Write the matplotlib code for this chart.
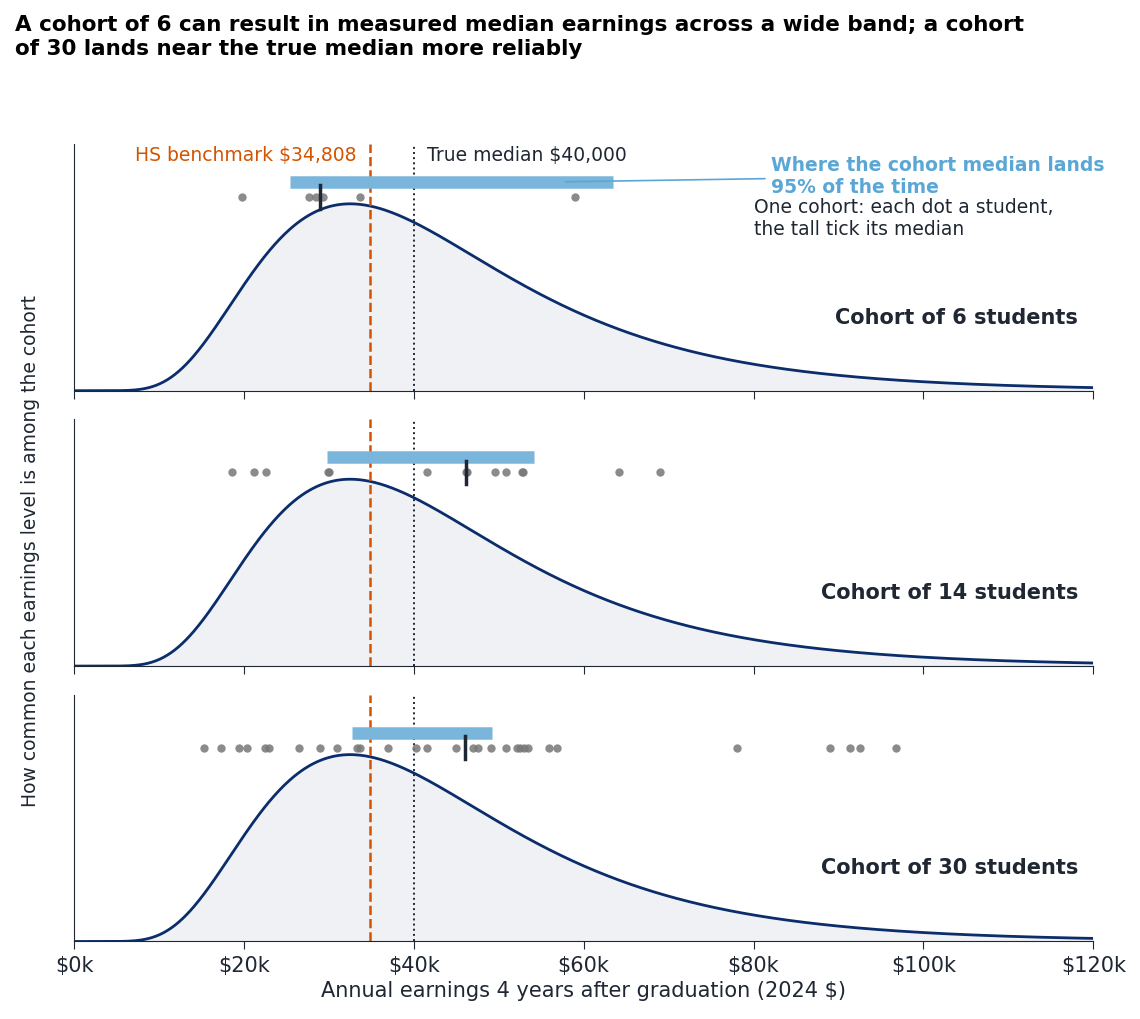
import numpy as np
import matplotlib.pyplot as plt

true_median = 40000
hs_benchmark = 34808
mode_earn = 32500  # peak of the earnings curve

cohort_sizes = [6, 14, 30]
cohort_students = [
    [19.8, 27.7, 28.5, 29.3, 33.7, 59.0],
    [18.6, 21.2, 22.6, 29.9, 30.0, 41.5, 46.2, 46.3, 49.5, 50.8, 52.7, 52.9, 64.2, 69.0],
    [15.3, 17.3, 19.4, 20.3, 22.5, 22.9, 26.5, 29.0, 30.9, 33.3, 33.7, 37.0, 40.3,
     41.5, 45.0, 47.0, 47.6, 49.1, 50.9, 52.1, 52.5, 53.0, 53.5, 55.9, 56.8, 78.0,
     89.0, 91.3, 92.5, 96.8],
]
cohort_medians = [28.9, 46.2, 46.0]
band_lo = [25.4, 29.8, 32.7]
band_hi = [63.4, 54.1, 49.2]

navy = '#0b2d6b'
orange = '#d35400'
blue = '#7ab5db'
ink = '#1f2733'

mu = np.log(true_median)
sigma = np.sqrt(np.log(true_median / mode_earn))
x = np.linspace(1, 120000, 800)
pdf = np.exp(-(np.log(x) - mu) ** 2 / (2 * sigma ** 2)) / x
pdf = pdf / pdf.max() * 0.757

fig = plt.figure(figsize=(11.4, 10.2), dpi=100)
bottoms = [0.616, 0.346, 0.076]
for i, n in enumerate(cohort_sizes):
    ax = fig.add_axes([0.065, bottoms[i], 0.894, 0.242])
    ax.fill_between(x, pdf, color='#eff1f5')
    ax.plot(x, pdf, color=navy, lw=2)
    ax.axvline(hs_benchmark, color=orange, ls='--', lw=1.8)
    ax.axvline(true_median, color=ink, ls=':', lw=1.4)
    ax.plot([band_lo[i] * 1000, band_hi[i] * 1000], [0.846, 0.846], color=blue, lw=9, solid_capstyle='butt')
    pts = np.array(cohort_students[i]) * 1000
    ax.scatter(pts, np.full(len(pts), 0.785), s=36, color='#777777', alpha=0.85, zorder=3, lw=0)
    ax.plot([cohort_medians[i] * 1000] * 2, [0.738, 0.832], color=ink, lw=2.5, zorder=4)
    ax.text(0.985, 0.3, f'Cohort of {n} students', transform=ax.transAxes, ha='right',
            va='center', fontsize=15, fontweight='bold', color=ink)
    ax.set_xlim(0, 120000)
    ax.set_ylim(0, 1)
    ax.set_yticks([])
    ax.set_xticks(np.arange(0, 120001, 20000))
    for s in ['top', 'right']:
        ax.spines[s].set_visible(False)
    for s in ['left', 'bottom']:
        ax.spines[s].set_color(ink)
    ax.tick_params(axis='x', colors=ink, length=6, labelsize=15)
    if i < 2:
        ax.set_xticklabels([])
    else:
        ax.set_xticklabels([f'${v // 1000}k' for v in range(0, 120001, 20000)])
        ax.set_xlabel('Annual earnings 4 years after graduation (2024 $)', fontsize=15, color=ink)
    if i == 0:
        ax.text(hs_benchmark - 1500, 0.955, 'HS benchmark $34,808', color=orange, ha='right',
                va='center', fontsize=13.5)
        ax.text(true_median + 1500, 0.955, 'True median $40,000', color=ink, ha='left',
                va='center', fontsize=13.5)
        ax.annotate('Where the cohort median lands\n95% of the time', xy=(57500, 0.846),
                    xytext=(82000, 0.87), fontsize=13.5, fontweight='bold', color='#5aa7d6',
                    va='center', arrowprops=dict(arrowstyle='-', color='#5aa7d6', lw=1.2))
        ax.text(80000, 0.7, 'One cohort: each dot a student,\nthe tall tick its median',
                fontsize=13.5, color=ink, va='center')

fig.text(0.027, 0.46, 'How common each earnings level is among the cohort', rotation=90,
         ha='center', va='center', fontsize=13.5, color=ink)
fig.text(0.013, 0.985, 'A cohort of 6 can result in measured median earnings across a wide band; a cohort\n'
         'of 30 lands near the true median more reliably', fontsize=15.5, fontweight='bold',
         va='top', ha='left')
fig.savefig('out.png')
